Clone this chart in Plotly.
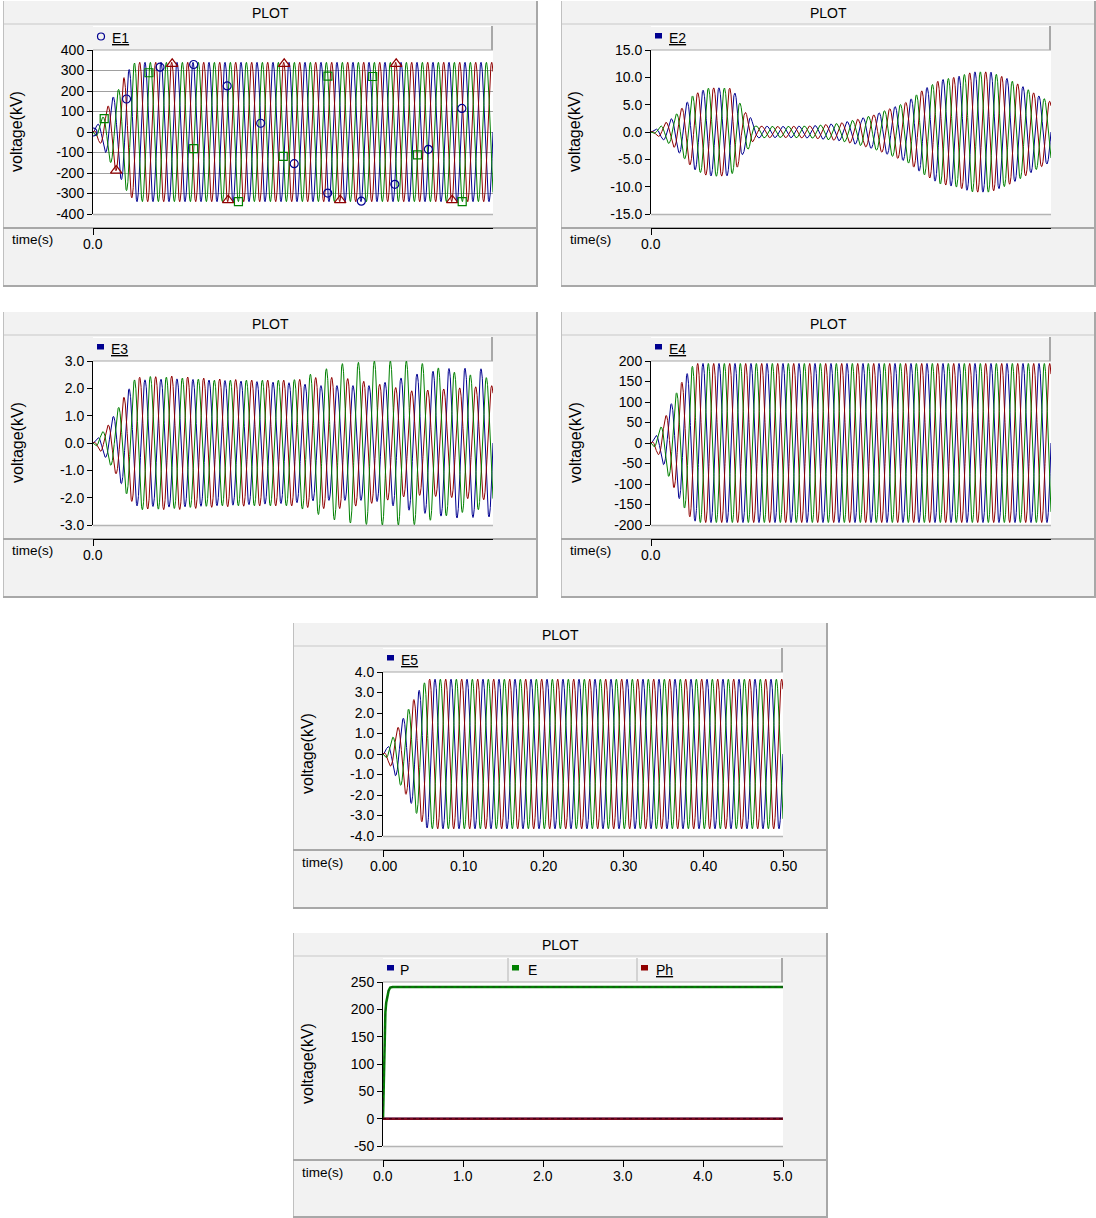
import numpy as np
import plotly.graph_objects as go

W, H = 1096, 1218
FREQ_HZ = 50.0
T_END = 0.5

# ---------------- data ----------------
# E1 envelope (kV)
E1_t = [0, 0.006, 0.0125, 0.019, 0.025, 0.034, 0.039, 0.046, 0.0525, 0.5]
E1_amp = [0, 40, 75, 130, 170, 220, 270, 310, 340, 340]
# E1 marker times (s)
E1_circle_t = [0.0, 0.0419, 0.0838, 0.1258, 0.1677, 0.2096, 0.2515, 0.2934, 0.3354, 0.3773, 0.4192, 0.4611]
E1_tri_t = [0.029, 0.099, 0.169, 0.239, 0.309, 0.379, 0.449]
E1_sq_t = [0.0140, 0.0699, 0.1259, 0.1818, 0.2378, 0.2937, 0.3496, 0.4056, 0.4615]

# E2 envelope (kV)
E2_t = [0, 0.01, 0.028, 0.04, 0.053, 0.07, 0.082, 0.099, 0.107, 0.115, 0.124, 0.13,
        0.16, 0.2, 0.236, 0.2575, 0.278, 0.299, 0.32, 0.34, 0.361, 0.3825, 0.4025,
        0.424, 0.445, 0.465, 0.486, 0.5]
E2_amp = [0, 0.9, 2.7, 4.6, 6.8, 8.0, 8.1, 8.0, 6.8, 4.0, 2.8, 1.1,
          1.0, 1.1, 1.6, 2.3, 3.1, 4.3, 5.5, 7.7, 9.5, 10.1, 11.0,
          11.0, 9.8, 8.3, 6.5, 5.5]

# E3 envelopes per phase (kV)
E3_t = [0, 0.0175, 0.03, 0.0425, 0.055, 0.1, 0.15, 0.2, 0.25, 0.28, 0.31, 0.35, 0.4, 0.45, 0.5]
E3_amp_a = [0, 0.6, 1.2, 1.9, 2.3, 2.35, 2.3, 2.25, 2.2, 2.1, 2.1, 2.1, 2.5, 2.75, 2.7]
E3_amp_b = [0, 0.6, 1.2, 1.9, 2.45, 2.4, 2.3, 2.3, 2.3, 2.6, 2.9, 3.0, 3.0, 2.6, 2.35]
E3_amp_c = [0, 0.6, 1.2, 1.9, 2.4, 2.45, 2.35, 2.3, 2.3, 2.4, 2.4, 2.2, 1.9, 2.0, 2.1]

# E4 envelope (kV)
E4_t = [0, 0.0125, 0.025, 0.0375, 0.05, 0.058, 0.5]
E4_amp = [0, 40, 95, 145, 185, 194, 194]

# E5 envelope (kV)
E5_t = [0, 0.005, 0.0125, 0.02, 0.0275, 0.035, 0.0425, 0.05, 0.056, 0.5]
E5_amp = [0, 0.3, 0.85, 1.4, 1.9, 2.4, 2.95, 3.4, 3.65, 3.65]

# bottom panel series
P6_t = [0, 0.01, 0.02, 0.03, 0.04, 0.055, 0.07, 0.09, 0.12, 0.2, 5.0]
P6_E = [0, 60, 150, 195, 212, 228, 234, 240, 241, 241, 241]
P6_P = [0, 0, 0, 0, 0, 0, 0, 0, 0, 0, 0]
P6_Ph = [0, 0, 0, 0, 0, 0, 0, 0, 0, 0, 0]

# tick labels
Y1_vals = [400, 300, 200, 100, 0, -100, -200, -300, -400]
Y1_text = ["400", "300", "200", "100", "0", "-100", "-200", "-300", "-400"]
Y2_vals = [15, 10, 5, 0, -5, -10, -15]
Y2_text = ["15.0", "10.0", "5.0", "0.0", "-5.0", "-10.0", "-15.0"]
Y3_vals = [3, 2, 1, 0, -1, -2, -3]
Y3_text = ["3.0", "2.0", "1.0", "0.0", "-1.0", "-2.0", "-3.0"]
Y4_vals = [200, 150, 100, 50, 0, -50, -100, -150, -200]
Y4_text = ["200", "150", "100", "50", "0", "-50", "-100", "-150", "-200"]
Y5_vals = [4, 3, 2, 1, 0, -1, -2, -3, -4]
Y5_text = ["4.0", "3.0", "2.0", "1.0", "0.0", "-1.0", "-2.0", "-3.0", "-4.0"]
Y6_vals = [250, 200, 150, 100, 50, 0, -50]
Y6_text = ["250", "200", "150", "100", "50", "0", "-50"]
X_short_vals = [0]
X_short_text = ["0.0"]
X5_vals = [0, 0.1, 0.2, 0.3, 0.4, 0.5]
X5_text = ["0.00", "0.10", "0.20", "0.30", "0.40", "0.50"]
X6_vals = [0, 1, 2, 3, 4, 5]
X6_text = ["0.0", "1.0", "2.0", "3.0", "4.0", "5.0"]

# ---------------- styling ----------------
BLUE, RED, GREEN = "#000090", "#900000", "#008000"
FONT = "Liberation Sans, Arial, sans-serif"
BG = "#f2f2f2"
BORDER = "#a8a8a8"

t = np.linspace(0, T_END, 4001)
PH = {"a": 0.0, "b": -2 * np.pi / 3, "c": 2 * np.pi / 3}


def wave(tt, et, ea, ph):
    tt = np.asarray(tt, dtype=float)
    return np.interp(tt, et, ea) * np.sin(2 * np.pi * FREQ_HZ * tt + ph)


def px(x):
    return x / W


def py(y):
    return 1 - y / H


panels = [
    dict(left=3, top=0, right=538, pl=93),
    dict(left=561, top=0, right=1096, pl=651),
    dict(left=3, top=311, right=538, pl=93),
    dict(left=561, top=311, right=1096, pl=651),
    dict(left=293, top=622, right=828, pl=383),
    dict(left=293, top=932, right=828, pl=383),
]

fig = go.Figure()
shapes = []
annotations = []


def line_shape(x0, y0, x1, y1, color, width=1):
    shapes.append(dict(type="line", xref="paper", yref="paper", x0=px(x0), y0=py(y0),
                       x1=px(x1), y1=py(y1), line=dict(color=color, width=width), layer="below"))


def rect_shape(x0, y0, x1, y1, fill, line_color=None, width=0):
    shapes.append(dict(type="rect", xref="paper", yref="paper", x0=px(x0), y0=py(y0),
                       x1=px(x1), y1=py(y1), fillcolor=fill,
                       line=dict(color=line_color or fill, width=width), layer="below"))


def text(x, y, s, size=14, xanchor="center", angle=0):
    annotations.append(dict(x=px(x), y=py(y), xref="paper", yref="paper", text=s,
                            showarrow=False, xanchor=xanchor, yanchor="middle",
                            textangle=angle, font=dict(family=FONT, size=size, color="black")))


for p in panels:
    L, T, R, pl = p["left"], p["top"], p["right"], p["pl"]
    B = min(T + 287, H)
    rect_shape(L, T + 1, R, B, BG)
    line_shape(L, T + 24, R, T + 24, "#c8c8c8", 1)
    line_shape(L + 0.5, T + 1, L + 0.5, B, "#c0c0c0", 1)
    line_shape(R - 1, T + 1, R - 1, B, BORDER, 2)
    line_shape(L, B - 1, R, B - 1, BORDER, 2)
    # legend bar
    rect_shape(pl, T + 26, pl + 400, T + 50, BG)
    line_shape(pl, T + 26.5, pl + 400, T + 26.5, "#ffffff", 1)
    line_shape(pl + 399, T + 26, pl + 399, T + 50, BORDER, 2)
    # plot area
    rect_shape(pl, T + 50, pl + 400, T + 214, "#ffffff")
    line_shape(pl, T + 50, pl + 400, T + 50, BORDER, 1)
    line_shape(pl, T + 214.5, pl + 400, T + 214.5, "#b4b4b4", 1.5)
    # separator at x axis
    line_shape(L, T + 228, R, T + 228, BORDER, 2)
    text((L + R) / 2, T + 13, "PLOT", 14)
    text(L + 14, T + 132, "voltage(kV)", 16, angle=-90)
    text(L + 29, T + 240, "time(s)", 13.5)


def legend_square(x, y, color):
    rect_shape(x, y - 3, x + 7, y + 2.5, color)


# legends
p = panels[0]
shapes.append(dict(type="circle", xref="paper", yref="paper",
                   x0=px(p["pl"] + 4.5), x1=px(p["pl"] + 11.5),
                   y0=py(p["top"] + 33), y1=py(p["top"] + 40),
                   line=dict(color=BLUE, width=1.2), fillcolor="rgba(0,0,0,0)"))
text(p["pl"] + 17, p["top"] + 38, "<u>E1</u>", 14, xanchor="left")
for i, name in [(1, "E2"), (2, "E3"), (3, "E4"), (4, "E5")]:
    p = panels[i]
    legend_square(p["pl"] + 4, p["top"] + 36, BLUE)
    text(p["pl"] + 16, p["top"] + 38, "<u>" + name + "</u>", 14, xanchor="left")
p = panels[5]
T6, pl6 = p["top"], p["pl"]
line_shape(508, T6 + 26, 508, T6 + 50, "#c8c8c8", 1.5)
line_shape(637, T6 + 26, 637, T6 + 50, "#c8c8c8", 1.5)
legend_square(pl6 + 4, T6 + 36, BLUE)
text(pl6 + 15, T6 + 38, "P", 14, xanchor="left")
legend_square(512, T6 + 36, GREEN)
legend_square(641, T6 + 36, RED)
text(526, T6 + 38, "E", 14, xanchor="left")
text(654, T6 + 38, "<u>Ph</u>", 14, xanchor="left")

# ---------------- axes ----------------
yticks = [(Y1_vals, Y1_text), (Y2_vals, Y2_text), (Y3_vals, Y3_text),
          (Y4_vals, Y4_text), (Y5_vals, Y5_text), (Y6_vals, Y6_text)]
xticks = [(X_short_vals, X_short_text)] * 4 + [(X5_vals, X5_text), (X6_vals, X6_text)]
xranges = [[0, 0.5]] * 5 + [[0, 5]]

layout_axes = {}
for i, p in enumerate(panels):
    n = i + 1
    T, pl = p["top"], p["pl"]
    yv, ytx = yticks[i]
    xv, xtx = xticks[i]
    layout_axes[f"xaxis{n}"] = dict(
        domain=[px(pl), px(pl + 400)], anchor="free", position=py(T + 228),
        range=xranges[i], tickmode="array", tickvals=xv, showticklabels=False,
        showline=True, linecolor="black", linewidth=1, ticks="outside", ticklen=6,
        tickcolor="black", showgrid=False, zeroline=False, fixedrange=True,
        automargin=False)
    # x tick labels placed through the axis scale
    for v, s in zip(xv, xtx):
        annotations.append(dict(x=v, y=py(T + 244), xref=f"x{n}", yref="paper", text=s,
                                showarrow=False, xanchor="center", yanchor="middle",
                                font=dict(family=FONT, size=14, color="black")))
    layout_axes[f"yaxis{n}"] = dict(
        domain=[py(T + 214), py(T + 50)], anchor=f"x{n}",
        range=[min(yv), max(yv)], tickmode="array", tickvals=yv, ticktext=ytx,
        showline=True, linecolor="black", linewidth=1, ticks="outside", ticklen=5,
        tickcolor="black", showgrid=(i == 0), gridcolor="#a0a0a0", gridwidth=1,
        zeroline=False, fixedrange=True, automargin=False,
        tickfont=dict(family=FONT, size=14, color="black"))

# ---------------- traces ----------------
def add_line(n, x, y, color, width=1, dash="solid"):
    fig.add_trace(go.Scatter(x=x, y=y, mode="lines", xaxis=f"x{n}", yaxis=f"y{n}",
                             line=dict(color=color, width=width, dash=dash),
                             hoverinfo="skip", showlegend=False))


# E1
for ph, col in [("a", BLUE), ("c", RED), ("b", GREEN)]:
    add_line(1, t, wave(t, E1_t, E1_amp, PH[ph]), col)
for mt, ph, col, sym, sz in [(E1_circle_t, "a", BLUE, "circle-open", 8),
                             (E1_tri_t, "c", RED, "triangle-up-open", 10),
                             (E1_sq_t, "b", GREEN, "square-open", 8)]:
    fig.add_trace(go.Scatter(x=mt, y=wave(mt, E1_t, E1_amp, PH[ph]), mode="markers",
                             xaxis="x1", yaxis="y1", hoverinfo="skip", showlegend=False,
                             marker=dict(symbol=sym, size=sz, color=col, line=dict(color=col, width=1.2))))

# E2
for ph, col in [("a", BLUE), ("c", RED), ("b", GREEN)]:
    add_line(2, t, wave(t, E2_t, E2_amp, PH[ph]), col)
# E3
for amp, ph, col in [(E3_amp_a, "a", BLUE), (E3_amp_c, "c", RED), (E3_amp_b, "b", GREEN)]:
    add_line(3, t, wave(t, E3_t, amp, PH[ph]), col)
# E4
for ph, col in [("a", BLUE), ("c", RED), ("b", GREEN)]:
    add_line(4, t, wave(t, E4_t, E4_amp, PH[ph]), col)
# E5
for ph, col in [("a", BLUE), ("c", RED), ("b", GREEN)]:
    add_line(5, t, wave(t, E5_t, E5_amp, PH[ph]), col)
# bottom panel
add_line(6, P6_t, P6_P, BLUE, 2)
add_line(6, P6_t, P6_E, GREEN, 2.5)
add_line(6, P6_t, P6_E, "#1c4a1c", 1, "dot")
add_line(6, P6_t, P6_Ph, "#7a0a20", 2.5)
add_line(6, P6_t, P6_Ph, "#3a0010", 1, "dot")

fig.update_layout(
    width=W, height=H, margin=dict(l=0, r=0, t=0, b=0, pad=0, autoexpand=False),
    paper_bgcolor="white", plot_bgcolor="rgba(0,0,0,0)",
    showlegend=False, hovermode=False,
    shapes=shapes, annotations=annotations, **layout_axes)

fig.write_html(
    "out.html",
    config={"displayModeBar": False},
    post_script="document.body.style.margin='0';document.body.style.overflow='hidden';",
)
